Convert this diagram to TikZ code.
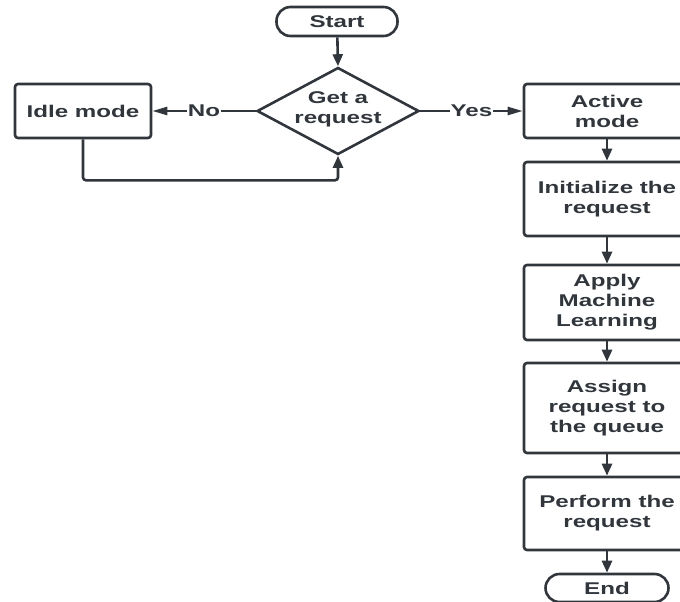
\documentclass[tikz,border=0pt]{standalone}
\usepackage{fontspec}
\setmainfont{Liberation Sans}[FakeStretch=1.42]
\usetikzlibrary{shapes.geometric,arrows.meta}
\definecolor{ink}{HTML}{30363C}
\newcommand{\txtfont}{\fontsize{17}{20}\selectfont\bfseries}
\begin{document}
\begin{tikzpicture}[x=1pt,y=-1pt,
  box/.style={draw=ink, line width=2.6pt, rounded corners=3pt, align=center,
    font=\txtfont, text=ink, inner sep=0pt},
  term/.style={box, rounded corners=14pt},
  arrV/.style={draw=ink, line width=2.6pt, -{Triangle[length=12pt,width=10pt]}},
  arrH/.style={draw=ink, line width=2.4pt, -{Triangle[length=15pt,width=8pt]}},
  lab/.style={fill=white, inner sep=1pt, font=\txtfont, text=ink}]
\useasboundingbox (0,0) rectangle (680,602);

\node[term, minimum width=121pt, minimum height=29pt] (start) at (337,21.5) {Start};
\node[draw=ink, line width=2.6pt, shape=diamond, aspect=1.86, inner sep=0pt,
  minimum width=162pt, minimum height=87pt] (dec) at (338,111) {};
\node[align=center, font=\txtfont, text=ink] (dect) at (338,109) {Get a\\request};
\node[box, minimum width=136pt, minimum height=54pt] (idle) at (83,111) {Idle mode};
\node[box, minimum width=166pt, minimum height=54pt] (active) at (607,111) {Active\\mode};
\node[box, minimum width=166pt, minimum height=74pt] (init) at (607,199) {Initialize the\\request};
\node[box, minimum width=166pt, minimum height=75pt] (ml) at (607,302.5) {Apply\\Machine\\Learning};
\node[box, minimum width=166pt, minimum height=90pt] (assign) at (607,408) {Assign\\request to\\the queue};
\node[box, minimum width=166pt, minimum height=73pt] (perform) at (607,513.5) {Perform the\\request};
\node[term, minimum width=123pt, minimum height=28pt] (end) at (607,588) {End};

\draw[arrV] (start) -- (dec.north);
\draw[arrH] (dec.west) -- node[lab] {No} (idle.east);
\draw[arrH] (dec.east) -- node[lab] {Yes} (active.west);
\draw[arrV, rounded corners=3pt] (idle.south) -- ++(0,41) -| (dec.south);
\draw[arrV] (active) -- (init);
\draw[arrV] (init) -- (ml);
\draw[arrV] (ml) -- (assign);
\draw[arrV] (assign) -- (perform);
\draw[arrV] (perform) -- (end);
\end{tikzpicture}
\end{document}
